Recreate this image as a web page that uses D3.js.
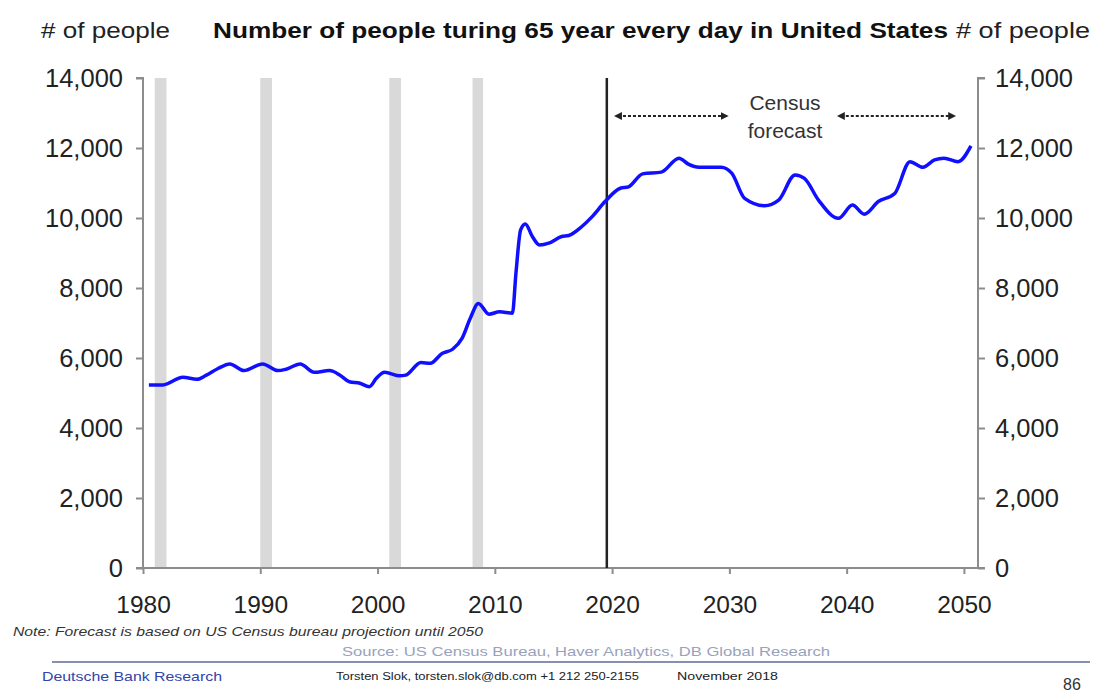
<!DOCTYPE html>
<html>
<head>
<meta charset="utf-8">
<script src="https://cdn.jsdelivr.net/npm/d3@7"></script>
<style>
  body { margin: 0; background: #fff; }
  svg text { font-family: "Liberation Sans", Arial, sans-serif; }
</style>
</head>
<body>
<svg id="vis" width="1095" height="692"></svg>
<script>
// people turning 65 per day (fractional years)
let years = [1980.5, 1981.7, 1983.4, 1984.6, 1985.4, 1986.4, 1987.4, 1988.6, 1990.2, 1991.5,
    1992.2, 1993.4, 1994.6, 1995.9, 1996.8, 1997.6, 1998.5, 1999.3, 1999.9, 2000.6,
    2001.9, 2002.4, 2003.7, 2004.5, 2005.5, 2006.4, 2007.2, 2007.9, 2008.6, 2009.5,
    2010.4, 2011.5, 2011.8, 2012.2, 2012.6, 2013.2, 2013.8, 2014.6, 2015.7, 2016.3,
    2017.4, 2018.3, 2019.4, 2020.7, 2021.4, 2022.6, 2024.2, 2025.7, 2026.5, 2027.4,
    2029.3, 2030.2, 2031.3, 2033.0, 2034.2, 2035.6, 2036.4, 2037.6, 2039.3, 2040.5,
    2041.5, 2042.7, 2044.1, 2045.4, 2046.5, 2047.5, 2048.3, 2049.5, 2050.6];
let people = [5230, 5230, 5450, 5390, 5510, 5700, 5830, 5640, 5830, 5640,
    5680, 5830, 5590, 5640, 5510, 5320, 5280, 5180, 5420, 5590,
    5490, 5510, 5870, 5850, 6130, 6250, 6560, 7130, 7560, 7250,
    7320, 7280, 8420, 9660, 9830, 9470, 9230, 9280, 9470, 9500,
    9750, 10040, 10470, 10850, 10890, 11260, 11310, 11710, 11540, 11450,
    11450, 11280, 10560, 10350, 10510, 11230, 11130, 10510, 9990, 10370,
    10110, 10470, 10700, 11610, 11450, 11660, 11710, 11610, 12060];

// recessions (shaded)
let recStart = [1981.0, 1990.0, 2001.0, 2008.1];
let recEnd = [1982.0, 1991.0, 2002.0, 2009.0];

let forecastYear = 2019.55;
let xTicks = [1980, 1990, 2000, 2010, 2020, 2030, 2040, 2050];
let yTicks = [0, 2000, 4000, 6000, 8000, 10000, 12000, 14000];

let svg = d3.select("#vis");
let pLeft = 143, pRight = 978, pTop = 78, pBottom = 568;

let x = d3.scaleLinear().domain([1980, 2051.2]).range([pLeft, pRight]);
let y = d3.scaleLinear().domain([0, 14000]).range([pBottom, pTop]);

// recession bars
svg.selectAll(".rec")
    .data(recStart)
    .enter().append("rect")
    .attr("class", "rec")
    .attr("x", d => x(d))
    .attr("width", (d, i) => x(recEnd[i]) - x(d))
    .attr("y", y(14000))
    .attr("height", y(0) - y(14000))
    .attr("fill", "#d9d9d9");

// axes
let axisColor = "#8c8c8c";
let fmt = d3.format(",");

let gl = svg.append("g")
    .attr("transform", `translate(${pLeft}, 0)`)
    .call(d3.axisLeft(y).tickValues(yTicks).tickFormat(fmt).tickSize(7).tickPadding(13));
let gr = svg.append("g")
    .attr("transform", `translate(${pRight}, 0)`)
    .call(d3.axisRight(y).tickValues(yTicks).tickFormat(fmt).tickSize(7).tickPadding(10));
let gb = svg.append("g")
    .attr("transform", `translate(0, ${pBottom})`)
    .call(d3.axisBottom(x).tickValues(xTicks).tickFormat(d3.format("d")).tickSize(6).tickPadding(22));

[gl, gr, gb].forEach(g => {
    g.select(".domain").attr("stroke", axisColor).attr("stroke-width", 2);
    g.selectAll(".tick line").attr("stroke", axisColor).attr("stroke-width", 2);
    g.selectAll(".tick text")
        .attr("fill", "#222")
        .style("font-size", "25.5px")
        .style("font-family", "'Liberation Sans', Arial, sans-serif");
});
gb.selectAll(".tick text").style("font-size", "24.5px");
gb.select(".domain").attr("d", `M${pLeft},0H${pRight}`);
gl.select(".domain").attr("d", `M-7,${pTop}H0V${pBottom}H-7`);
gr.select(".domain").attr("d", `M7,${pTop}H0V${pBottom}H7`);

// forecast divider
svg.append("line")
    .attr("x1", x(forecastYear)).attr("x2", x(forecastYear))
    .attr("y1", y(14000)).attr("y2", y(0))
    .attr("stroke", "#222").attr("stroke-width", 2.5);

// data line
let line = d3.line()
    .x((d, i) => x(years[i]))
    .y(d => y(d))
    .curve(d3.curveMonotoneX);

svg.append("path")
    .datum(people)
    .attr("d", line)
    .attr("fill", "none")
    .attr("stroke", "#1010ff")
    .attr("stroke-width", 3.5)
    .attr("stroke-linejoin", "round");

// census forecast annotation
let defs = svg.append("defs");
defs.append("marker")
    .attr("id", "arr")
    .attr("viewBox", "0 0 10 10")
    .attr("refX", 5).attr("refY", 5)
    .attr("markerWidth", 4).attr("markerHeight", 4)
    .attr("orient", "auto-start-reverse")
    .append("path")
    .attr("d", "M0,0L10,5L0,10z")
    .attr("fill", "#222");

let arrows = [[2020.5, 2029.6], [2039.5, 2049.0]];
svg.selectAll(".arrow")
    .data(arrows)
    .enter().append("line")
    .attr("class", "arrow")
    .attr("x1", d => x(d[0])).attr("x2", d => x(d[1]))
    .attr("y1", 116).attr("y2", 116)
    .attr("stroke", "#222").attr("stroke-width", 2)
    .attr("stroke-dasharray", "3,2")
    .attr("marker-start", "url(#arr)")
    .attr("marker-end", "url(#arr)");

svg.append("text")
    .attr("x", 785).attr("y", 110)
    .attr("text-anchor", "middle")
    .attr("fill", "#333")
    .style("font-size", "21px")
    .text("Census");
svg.append("text")
    .attr("x", 785).attr("y", 138)
    .attr("text-anchor", "middle")
    .attr("fill", "#333")
    .style("font-size", "21px")
    .text("forecast");

// titles
svg.append("text")
    .attr("x", 41).attr("y", 38)
    .attr("fill", "#222")
    .style("font-size", "22px")
    .attr("textLength", 129).attr("lengthAdjust", "spacingAndGlyphs")
    .text("# of people");
svg.append("text")
    .attr("x", 956).attr("y", 38)
    .attr("fill", "#222")
    .style("font-size", "22px")
    .attr("textLength", 134).attr("lengthAdjust", "spacingAndGlyphs")
    .text("# of people");
svg.append("text")
    .attr("x", 213).attr("y", 38)
    .attr("fill", "#111")
    .style("font-size", "22px")
    .style("font-weight", "bold")
    .attr("textLength", 735).attr("lengthAdjust", "spacingAndGlyphs")
    .text("Number of people turing 65 year every day in United States");

// footer
function footText(str, x0, y0, size, width, color) {
    return svg.append("text")
        .attr("x", x0).attr("y", y0)
        .attr("fill", color)
        .style("font-size", size + "px")
        .attr("textLength", width).attr("lengthAdjust", "spacingAndGlyphs")
        .text(str);
}
footText("Note: Forecast is based on US Census bureau projection until 2050", 13, 636, 13, 470, "#333")
    .style("font-style", "italic");
footText("Source: US Census Bureau, Haver Analytics, DB Global Research", 342, 656, 13, 488, "#98a2bd");
svg.append("line")
    .attr("x1", 52).attr("x2", 1090)
    .attr("y1", 662).attr("y2", 662)
    .attr("stroke", "#8592ae").attr("stroke-width", 2);
footText("Deutsche Bank Research", 42, 681, 13, 180, "#3344aa");
footText("Torsten Slok, torsten.slok@db.com  +1 212 250-2155", 336, 680, 10, 303, "#222");
footText("November 2018", 677, 680, 10, 101, "#222");
svg.append("text")
    .attr("x", 1063).attr("y", 690)
    .attr("fill", "#333")
    .style("font-size", "16px")
    .text("86");
</script>
</body>
</html>
